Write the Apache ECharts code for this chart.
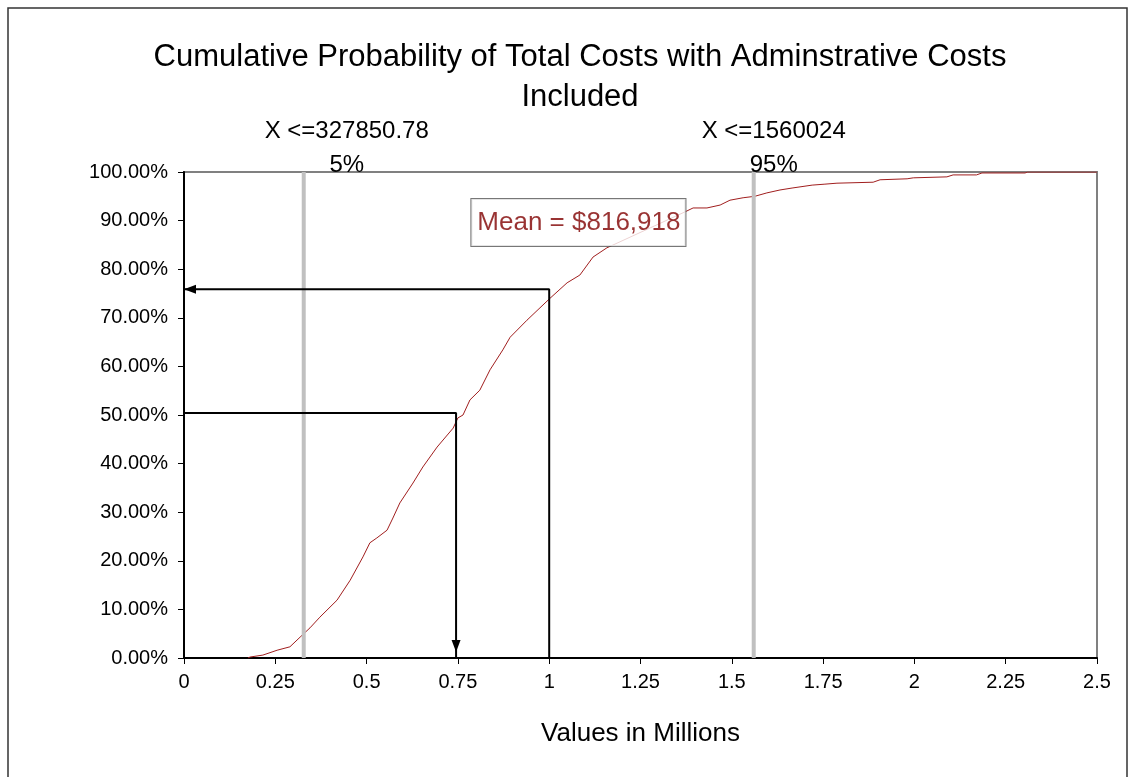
<!DOCTYPE html>
<html>
<head>
<meta charset="utf-8">
<title>Cumulative Probability</title>
<script src="https://cdn.jsdelivr.net/npm/echarts@6/dist/echarts.min.js"></script>
<style>
  html, body { margin: 0; padding: 0; background: #fff; }
  #chart { width: 1130px; height: 777px; }
</style>
</head>
<body>
<div id="chart"></div>
<script>
// cost in millions, cumulative probability in percent
var costX = [0.175, 0.181, 0.216, 0.255, 0.29, 0.318, 0.345, 0.372, 0.419, 0.455,
  0.49, 0.509, 0.528, 0.556, 0.572, 0.591, 0.627, 0.654, 0.693, 0.737,
  0.75, 0.764, 0.783, 0.81, 0.838, 0.873, 0.893, 0.939, 1.002, 1.049,
  1.084, 1.12, 1.158, 1.372, 1.394, 1.432, 1.468, 1.495, 1.531, 1.563,
  1.596, 1.632, 1.665, 1.72, 1.755, 1.788, 1.887, 1.906, 1.98, 1.997,
  2.089, 2.106, 2.17, 2.185, 2.303, 2.31, 2.5];
var cumProb = [0, 0.2, 0.6, 1.6, 2.3, 4.3, 6.2, 8.4, 11.9, 16,
  20.8, 23.7, 24.7, 26.3, 28.8, 31.9, 36, 39.3, 43.4, 47.3,
  49.4, 50, 53.1, 55.1, 59.3, 63.4, 66, 69.5, 74, 77.2,
  78.8, 82.5, 84.4, 91.8, 92.6, 92.6, 93.2, 94.2, 94.7, 95,
  95.7, 96.3, 96.7, 97.3, 97.5, 97.7, 97.9, 98.4, 98.6, 98.8,
  99, 99.4, 99.4, 99.8, 99.8, 100, 100];

// percentile markers
var pctValues = [0.32785078, 1.560024];
var pctLabels = ['X <=327850.78\n5%', 'X <=1560024\n95%'];

// arrow paths: [x, y] in millions / percent
var arrowUpper = [[1, 0], [1, 75.9], [0, 75.9]];
var arrowLower = [[0, 50.4], [0.745, 50.4], [0.745, 0]];

var meanText = 'Mean = $816,918';
var meanPos = [1.08, 89.6];

var FONT = 'Arial, "Liberation Sans", sans-serif';

var chart = echarts.init(document.getElementById('chart'));

var curve = costX.map(function (x, i) { return [x, cumProb[i]]; });

function arrowData(pts, rotate, offset) {
  return pts.map(function (p, i) {
    if (i < pts.length - 1) return { value: p, symbol: 'none' };
    return { value: p, symbol: 'triangle', symbolSize: [9, 12], symbolRotate: rotate, symbolOffset: offset };
  });
}

var pctSeries = pctValues.map(function (v, i) {
  return {
    type: 'line',
    data: [[v, 0], { value: [v, 100], label: {
      show: true, position: 'top', formatter: pctLabels[i],
      offset: [i === 0 ? 43 : 20, 15],
      fontSize: 24, fontFamily: FONT, color: '#000', lineHeight: 34
    } }],
    symbol: 'circle',
    symbolSize: 0,
    lineStyle: { color: '#c0c0c0', width: 4 },
    z: 4
  };
});

var option = {
  animation: false,
  backgroundColor: '#fff',
  title: {
    text: 'Cumulative Probability of Total Costs with Adminstrative Costs\nIncluded',
    left: 575,
    top: 32,
    textAlign: 'center',
    textStyle: { fontFamily: FONT, fontSize: 31, fontWeight: 'normal', color: '#000', lineHeight: 40 }
  },
  graphic: [{
    type: 'rect',
    shape: { x: 8, y: 8, width: 1119, height: 820 },
    style: { fill: 'none', stroke: '#333', lineWidth: 1.5 },
    silent: true
  }],
  grid: {
    left: 184, right: 33, top: 172, bottom: 119,
    show: true, borderColor: '#808080', borderWidth: 2, backgroundColor: 'transparent'
  },
  xAxis: {
    type: 'value',
    min: 0, max: 2.5, interval: 0.25,
    name: 'Values in Millions',
    nameLocation: 'middle',
    nameGap: 63,
    nameTextStyle: { fontFamily: FONT, fontSize: 26, color: '#000' },
    axisLine: { lineStyle: { color: '#000', width: 2 } },
    axisTick: { length: 6, lineStyle: { color: '#000' } },
    axisLabel: { fontFamily: FONT, fontSize: 20, color: '#000', margin: 14 },
    splitLine: { show: false }
  },
  yAxis: {
    type: 'value',
    min: 0, max: 100, interval: 10,
    axisLine: { show: true, lineStyle: { color: '#000', width: 2 } },
    axisTick: { show: true, length: 6, lineStyle: { color: '#000' } },
    axisLabel: {
      fontFamily: FONT, fontSize: 20, color: '#000', margin: 16,
      formatter: function (v) { return v.toFixed(2) + '%'; }
    },
    splitLine: { show: false }
  },
  series: [
    {
      type: 'line',
      data: curve,
      symbol: 'none',
      lineStyle: { color: '#a01e1e', width: 1 },
      z: 3
    }
  ].concat(pctSeries).concat([
    {
      type: 'line',
      data: arrowData(arrowUpper, 90, [6, 0]),
      lineStyle: { color: '#000', width: 2 },
      itemStyle: { color: '#000' },
      z: 5
    },
    {
      type: 'line',
      data: arrowData(arrowLower, 180, [0, -12]),
      lineStyle: { color: '#000', width: 2 },
      itemStyle: { color: '#000' },
      z: 5
    },
    {
      type: 'scatter',
      data: [meanPos],
      symbolSize: 0,
      label: {
        show: true, position: 'inside', formatter: meanText,
        fontFamily: FONT, fontSize: 26, color: '#800000',
        backgroundColor: '#fff', borderColor: '#555', borderWidth: 1,
        padding: [12, 5, 9, 6]
      },
      z: 6
    }
  ])
};

chart.setOption(option);
window.onresize = function () { chart.resize(); };
</script>
</body>
</html>
